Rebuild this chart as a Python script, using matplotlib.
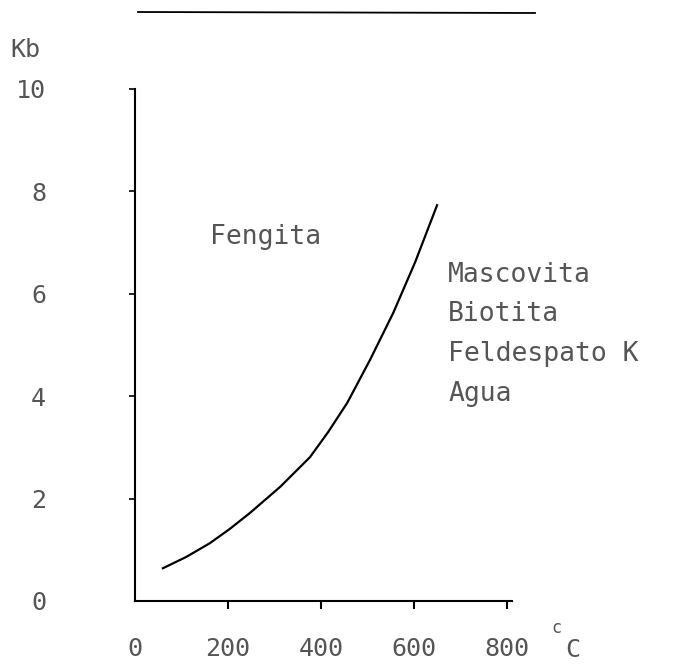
import matplotlib
matplotlib.use('Agg')
import matplotlib.pyplot as plt
from matplotlib.lines import Line2D

# curva de equilibrio (T en C, P en Kb)
temp = [60, 110, 161, 204, 247, 312, 376, 415, 456, 505, 555, 602, 649]
pres = [0.64, 0.86, 1.13, 1.41, 1.72, 2.23, 2.81, 3.30, 3.87, 4.71, 5.63, 6.62, 7.73]

xticks = [0, 200, 400, 600, 800]
yticks = [0, 2, 4, 6, 8, 10]
lado_izq = 'Fengita'
lado_der = ['Mascovita', 'Biotita', 'Feldespato K', 'Agua']

W, H = 684, 666
fig = plt.figure(figsize=(W / 100, H / 100), dpi=100)
# ejes: x=0 en px 135, y=0 en px 601, y=10 en px 89
ax = fig.add_axes([135 / W, (H - 601) / H, (512 - 135) / W, (601 - 89) / H])
ax.set_xlim(0, 810)
ax.set_ylim(0, 10)

fuente = dict(family='DejaVu Sans Mono', color='#555555')

ax.plot(temp, pres, color='black', lw=1.6)

for s in ['top', 'right']:
    ax.spines[s].set_visible(False)
for s in ['left', 'bottom']:
    ax.spines[s].set_linewidth(1.5)

ax.set_xticks(xticks)
ax.set_xticklabels([str(v) for v in xticks], fontsize=18, **fuente)
ax.set_yticks(yticks)
ax.set_yticklabels([str(v) for v in yticks], fontsize=18, **fuente)
ax.tick_params(axis='x', direction='out', length=6, width=1.5, pad=20)
ax.tick_params(axis='y', direction='out', length=4, width=1.2, pad=60)
ax.xaxis.get_major_ticks()[0].tick1line.set_visible(False)
ax.yaxis.get_major_ticks()[0].tick1line.set_visible(False)

ax.text(161, 7.11, lado_izq, fontsize=19, va='center', ha='left', **fuente)
for i, t in enumerate(lado_der):
    ax.annotate(t, xy=(673, 6.37), xytext=(0, -28.5 * i), textcoords='offset points',
                fontsize=19, va='center', ha='left', **fuente)

fig.text(10 / W, 1 - 50 / H, 'Kb', fontsize=18, va='center', ha='left', **fuente)
fig.text(556 / W, 1 - 628 / H, 'c', fontsize=12, va='center', ha='center', **fuente)
fig.text(573 / W, 1 - 650 / H, 'C', fontsize=18, va='center', ha='center', **fuente)

# linea superior
fig.add_artist(Line2D([138 / W, 535 / W], [1 - 12 / H, 1 - 13 / H], color='black', lw=1.3))

fig.savefig('out.png', dpi=100)
